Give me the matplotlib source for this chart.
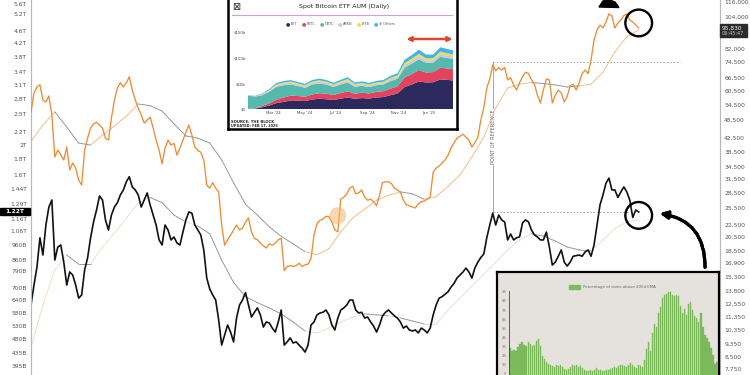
import numpy as np
import pandas as pd
import matplotlib
matplotlib.use('Agg')
import matplotlib.pyplot as plt
import matplotlib.ticker as mticker
import matplotlib.transforms as mtransforms
from matplotlib.patches import Rectangle, Polygon
from matplotlib.lines import Line2D

W, H = 750, 375

# weekly values, first week 2021-03-24
btc_k = [51.5, 59.3, 62.0, 63.0, 56.3, 55.5, 58.0, 50.5, 37.0, 38.9,
         37.5, 36.2, 39.8, 33.6, 35.4, 34.1, 31.2, 30.1, 38.9, 42.5,
         45.8, 47.2, 47.8, 46.8, 45.8, 42.5, 41.9, 49.3, 56.3, 61.5,
         64.0, 62.0, 64.0, 66.8, 60.6, 56.3, 53.1, 50.4, 47.5, 48.6,
         49.6, 45.8, 41.9, 38.9, 35.2, 39.5, 41.9, 40.4, 40.9, 37.5,
         39.5, 41.9, 44.4, 46.8, 43.5, 39.8, 38.9, 38.3, 36.2, 30.1,
         29.4, 30.6, 29.4, 28.6, 22.4, 19.3, 20.1, 20.8, 21.6, 22.4,
         21.6, 21.9, 22.9, 23.6, 21.3, 20.3, 20.1, 19.6, 19.2, 18.9,
         19.5, 19.3, 19.6, 20.1, 20.3, 16.0, 16.5, 16.6, 16.5, 16.6,
         16.9, 16.5, 16.7, 16.8, 17.5, 20.8, 22.6, 23.2, 23.4, 23.9,
         23.8, 22.9, 21.6, 21.3, 27.1, 27.5, 28.2, 29.4, 29.8, 28.2,
         28.4, 29.0, 27.5, 26.9, 27.1, 26.6, 25.8, 27.9, 30.6, 30.8,
         30.8, 30.4, 29.4, 29.0, 28.6, 26.9, 26.0, 25.8, 25.6, 25.4,
         26.2, 26.6, 26.7, 27.1, 27.5, 33.1, 34.1, 34.6, 35.4, 36.2,
         37.5, 39.5, 41.1, 42.5, 43.1, 43.8, 42.8, 41.9, 39.8, 41.1,
         42.8, 48.6, 53.1, 61.5, 65.8, 72.9, 69.8, 71.6, 70.2, 71.6,
         65.3, 66.4, 62.9, 60.6, 64.0, 66.8, 69.1, 68.4, 65.3, 63.3,
         58.4, 55.1, 60.6, 65.8, 65.3, 55.1, 58.4, 60.6, 59.3, 55.5,
         57.9, 62.5, 63.3, 60.6, 64.0, 68.4, 70.2, 68.4, 75.6, 87.6,
         94.4, 97.9, 95.8, 100.0, 106.2, 104.6, 95.8, 99.4, 101.6, 105.0,
         106.2, 101.6, 100.0, 97.9, 95.83]

# altcoin market cap, billions
total2_b = [617, 714, 815, 1010, 890, 1109, 1265, 1332, 858, 944,
            958, 845, 714, 786, 769, 714, 649, 664, 798, 871,
            1010, 1134, 1238, 1372, 1332, 1151, 1069, 1193, 1265, 1306,
            1382, 1434, 1521, 1580, 1466, 1434, 1382, 1265, 1332, 1403,
            1284, 1193, 1109, 994, 958, 1109, 1069, 994, 1016, 972,
            958, 1053, 1151, 1220, 1210, 1109, 1069, 1031, 924, 752,
            694, 664, 640, 553, 460, 495, 533, 506, 471, 561,
            617, 640, 676, 617, 565, 585, 604, 574, 525, 545,
            541, 521, 506, 545, 595, 460, 471, 485, 467, 471,
            460, 450, 437, 460, 533, 545, 574, 582, 585, 595,
            574, 533, 514, 561, 595, 604, 617, 640, 640, 595,
            582, 585, 561, 565, 545, 529, 506, 533, 570, 585,
            595, 582, 570, 561, 545, 521, 529, 514, 510, 514,
            503, 521, 514, 503, 521, 574, 617, 649, 656, 668,
            680, 704, 723, 752, 769, 786, 809, 786, 752, 809,
            845, 874, 897, 1010, 1109, 1210, 1109, 1193, 1151, 1134,
            994, 1038, 994, 1010, 1016, 1126, 1151, 1134, 1069, 1031,
            1016, 994, 994, 1053, 944, 827, 845, 882, 924, 845,
            821, 845, 882, 886, 890, 882, 910, 924, 882, 958,
            1109, 1284, 1382, 1506, 1564, 1434, 1434, 1357, 1413, 1466,
            1413, 1332, 1172, 1238, 1220]

# moving averages, every 4 weeks
btc_ma_k = [41.5, 46.8, 51.6, 46.1, 41.0, 40.4, 43.5, 46.5, 50.0, 54.7,
            54.0, 51.9, 47.2, 43.2, 42.5, 41.0, 36.2, 30.6, 26.1, 24.1,
            22.1, 20.6, 19.5, 18.4, 18.0, 18.8, 21.3, 23.6, 25.2, 26.9,
            27.9, 28.6, 28.2, 27.1, 27.6, 29.8, 32.4, 37.0, 42.8, 53.1,
            61.5, 63.3, 64.0, 63.6, 62.9, 62.0, 62.5, 63.3, 69.1, 80.3,
            89.8, 94.4]
total2_ma_b = [453, 617, 798, 890, 833, 833, 944, 1045, 1165, 1306,
               1357, 1306, 1193, 1134, 1101, 1040, 858, 728, 656, 628,
               604, 578, 545, 510, 503, 521, 545, 565, 578, 574,
               570, 561, 549, 537, 537, 595, 649, 709, 773, 845,
               924, 994, 1040, 1023, 986, 944, 924, 917, 994, 1081,
               1134, 1151]

left_labels = ['5.6T', '5.2T', '4.6T', '4.2T', '3.8T', '3.4T', '3.1T', '2.8T', '2.5T',
               '2.2T', '2T', '1.8T', '1.6T', '1.44T', '1.29T', '1.16T', '1.06T',
               '960B', '860B', '790B', '700B', '640B', '580B', '530B', '480B', '435B', '395B']
left_vals = [5600, 5200, 4600, 4200, 3800, 3400, 3100, 2800, 2500, 2200, 2000, 1800, 1600,
             1440, 1290, 1160, 1060, 960, 860, 790, 700, 640, 580, 530, 480, 435, 395]
right_vals = [116000, 104000, 82000, 74500, 66500, 60500, 54500, 48500, 42500, 38500,
              34500, 31500, 28500, 25500, 22500, 20500, 18500, 16900, 15300, 13800,
              12550, 11350, 10350, 9350, 8500, 7750]

# ETF AUM inset ($b)
etf_dates = ['2024-01-11', '2024-01-25', '2024-02-08', '2024-02-22', '2024-03-07', '2024-03-21',
             '2024-04-04', '2024-04-18', '2024-05-02', '2024-05-16', '2024-05-30', '2024-06-13',
             '2024-06-27', '2024-07-11', '2024-07-25', '2024-08-08', '2024-08-22', '2024-09-05',
             '2024-09-19', '2024-10-03', '2024-10-17', '2024-10-31', '2024-11-14', '2024-11-28',
             '2024-12-12', '2024-12-26', '2025-01-09', '2025-01-23', '2025-02-06', '2025-02-17']
ibit = [0.1, 0.8, 3.5, 7.0, 11.5, 14.0, 16.8, 16.5, 15.5, 18.5, 20.0, 19.2, 17.7, 20.3, 22.5,
        20.0, 21.5, 20.5, 22.5, 23.5, 27.0, 30.5, 43.0, 48.0, 54.0, 52.0, 52.5, 58.0, 57.0, 56.0]
fbtc = [0.1, 0.6, 2.5, 4.5, 7.0, 8.5, 9.5, 9.0, 8.5, 10.0, 11.0, 10.8, 9.8, 11.0, 12.2,
        10.0, 10.5, 10.0, 11.0, 11.5, 13.0, 14.0, 19.0, 20.5, 22.5, 19.5, 20.0, 23.0, 22.5, 22.0]
gbtc = [26.0, 23.0, 21.0, 22.5, 25.0, 24.0, 22.0, 19.5, 17.5, 19.5, 19.2, 18.0, 15.8, 16.8, 17.5,
        13.5, 13.5, 12.5, 13.0, 13.0, 14.5, 15.0, 19.0, 20.5, 21.0, 19.0, 18.5, 21.5, 20.5, 20.0]
arkb = [0.1, 0.3, 1.0, 1.8, 2.6, 2.9, 2.9, 2.7, 2.6, 3.0, 3.2, 3.1, 2.8, 3.2, 3.6,
        2.9, 3.0, 2.7, 2.8, 3.0, 3.5, 3.6, 5.0, 5.2, 5.6, 4.8, 4.5, 5.2, 4.8, 4.6]
bitb = [0.1, 0.3, 1.0, 1.6, 2.2, 2.5, 2.5, 2.4, 2.3, 2.6, 2.8, 2.6, 2.3, 2.6, 2.9,
        2.5, 2.5, 2.4, 2.5, 2.6, 2.9, 3.0, 4.1, 4.5, 4.9, 4.2, 4.2, 4.8, 4.5, 4.3]
others = [0.5, 0.8, 1.4, 2.0, 2.8, 3.0, 3.0, 2.9, 2.8, 3.2, 3.4, 3.2, 2.9, 3.3, 3.6,
          3.1, 3.2, 3.0, 3.2, 3.3, 3.9, 4.3, 6.5, 7.2, 8.4, 7.2, 7.0, 8.5, 8.3, 8.0]
etf_names = ['IBIT', 'FBTC', 'GBTC', 'ARKB', 'BITB', '# Others']
etf_colors = ['#2c2a5c', '#e2445f', '#55b9ad', '#c9c7dc', '#f2d94e', '#3fb6e8']

# percentage of coins above 200d EMA
coins_above = [33, 30, 31, 30, 34, 38, 40, 37, 36, 40, 38, 36, 37, 41, 43, 35, 24, 21, 18, 16,
               15, 13, 12, 15, 13, 14, 12, 10, 9, 10, 12, 14, 13, 14, 12, 13, 11, 9, 8, 8,
               9, 8, 9, 11, 9, 9, 8, 8, 9, 9, 10, 11, 12, 11, 13, 14, 15, 13, 12, 15,
               17, 15, 12, 11, 14, 13, 12, 20, 32, 40, 30, 50, 60, 56, 72, 78, 88, 92, 93, 95,
               95, 92, 90, 92, 90, 80, 72, 76, 70, 82, 84, 75, 68, 66, 62, 72, 56, 48, 44, 40,
               33, 25, 16, 18]


def fx(x):
    return x / W


def fy(y):
    return 1 - y / H


fig = plt.figure(figsize=(7.5, 3.75), dpi=100)
fig.patch.set_facecolor('white')

ax = fig.add_axes([fx(31), 0, fx(720) - fx(31), 1])
ax2 = ax.twinx()

dates = pd.date_range('2021-03-24', periods=len(btc_k), freq='7D')
ma_dates = dates[::4]
btc = np.array(btc_k) * 1000
btc_ma = np.array(btc_ma_k) * 1000
total2 = np.array(total2_b, dtype=float)
total2_ma = np.array(total2_ma_b, dtype=float)

GREY_MA = '#8f99a5'


def draw_ma(a, vals, ma, up, dn, lw):
    for k in range(len(ma) - 1):
        seg = vals[4 * k:4 * k + 5]
        above = seg.mean() > (ma[k] + ma[k + 1]) / 2
        a.plot(ma_dates[k:k + 2], ma[k:k + 2], color=up if above else dn, lw=lw,
               zorder=2, solid_capstyle='round')


for a in (ax, ax2):
    a.set_yscale('log')
    a.set_xlim(pd.Timestamp('2021-03-24'), pd.Timestamp('2025-08-29'))
ax.set_ylim(369.5, 5767)
ax2.set_ylim(7412, 117724)

draw_ma(ax, total2, total2_ma, '#f4dccb', GREY_MA, 0.7)
ax.plot(dates, total2, color='#111111', lw=1.2, zorder=3)
draw_ma(ax2, btc, btc_ma, '#f3bd8c', GREY_MA, 0.7)
ax2.plot(dates, btc, color='#ec8d33', lw=0.95, zorder=3)

# axes styling
ax.set_yticks(left_vals, labels=left_labels)
ax2.set_yticks(right_vals, labels=['{:,}'.format(v) for v in right_vals])
ax.yaxis.set_minor_locator(mticker.NullLocator())
ax2.yaxis.set_minor_locator(mticker.NullLocator())
ax.tick_params(axis='y', length=0, labelsize=4.3, labelcolor='#555555', pad=3)
ax2.tick_params(axis='y', length=0, labelsize=4.3, labelcolor='#555555', pad=3)
ax.tick_params(axis='x', bottom=False, labelbottom=False)
ax2.tick_params(axis='x', bottom=False, labelbottom=False)
for a in (ax, ax2):
    a.spines['top'].set_visible(False)
    a.spines['bottom'].set_visible(False)
    a.spines['left'].set_color('#b8b8b8')
    a.spines['right'].set_color('#b8b8b8')
    a.spines['left'].set_linewidth(0.8)
    a.spines['right'].set_linewidth(0.8)
ax2.patch.set_visible(False)

# point of reference
ref = pd.Timestamp('2024-03-14')
ax2.plot([ref, pd.Timestamp('2025-05-26')], [74500, 74500], ls=(0, (2, 2)), color='#9a9a9a', lw=0.6, zorder=1)
ax.plot([ref, pd.Timestamp('2025-01-28')], [1220, 1220], ls=(0, (2, 2)), color='#9a9a9a', lw=0.6, zorder=1)


def axfrac(a, v):
    return a.transAxes.inverted().transform(a.transData.transform((0, v)))[1]


y_lo = axfrac(ax, 1220)
y_hi = axfrac(ax2, 74500)
ax.axvline(ref, ymin=y_lo, ymax=y_hi, color='#9a9a9a', lw=0.6, zorder=1)
blend = mtransforms.blended_transform_factory(ax.transData, ax.transAxes)
ax.text(ref, (y_lo + y_hi) / 2, 'POINT OF REFERENCE', transform=blend, rotation=90,
        ha='center', va='center', fontsize=3.6, color='#666666',
        bbox=dict(fc='white', ec='none', pad=0.6), zorder=4)

# highlight spot and circles
ax2.scatter([dates[103]], [24000], s=150, color='#f5b56b', alpha=0.55, edgecolors='none', zorder=4)
ax2.scatter([dates[-1]], [99400], s=370, facecolors='none', edgecolors='black', linewidths=1.7, zorder=6)
ax.scatter([dates[-1]], [1190], s=370, facecolors='none', edgecolors='black', linewidths=1.7, zorder=6)

# last value boxes
yb = fig.transFigure.inverted().transform(ax.transData.transform((0, 1220)))[1]
fig.add_artist(Rectangle((0, yb - 3.5 / H), fx(30), 7 / H, color='black', transform=fig.transFigure))
fig.text(fx(15), yb, '1.22T', ha='center', va='center', fontsize=4.3, color='white', fontweight='bold')
fig.add_artist(Rectangle((fx(719.5), fy(36.5)), fx(27), 12 / H, color='#2b2b2b', transform=fig.transFigure))
fig.text(fx(722), fy(28), '95,830', ha='left', va='center', fontsize=4.2, color='white')
fig.text(fx(722), fy(33.5), '06:45:47', ha='left', va='center', fontsize=3.6, color='#c8c8c8')

# top inset: spot ETF AUM
box = fig.add_axes([fx(228), fy(129), fx(457) - fx(228), 132 / H])
box.set_xticks([])
box.set_yticks([])
box.set_facecolor('white')
for s in box.spines.values():
    s.set_linewidth(1.8)
    s.set_color('black')

ia = fig.add_axes([fx(248), fy(109), fx(453) - fx(248), 81.6 / H])
ed = pd.to_datetime(etf_dates)
ia.stackplot(ed, ibit, fbtc, gbtc, arkb, bitb, others, colors=etf_colors, lw=0)
ia.set_xlim(ed[0], ed[-1])
ia.set_ylim(0, 160)
ia.set_yticks([0, 50, 100, 150], labels=['$0', '$50b', '$100b', '$150b'])
mticks = pd.to_datetime(['2024-03-01', '2024-05-01', '2024-07-01', '2024-09-01', '2024-11-01', '2025-01-01'])
ia.set_xticks(mticks, labels=["Mar '24", "May '24", "Jul '24", "Sep '24", "Nov '24", "Jan '25"])
ia.tick_params(length=0, labelsize=2.8, labelcolor='#444444', pad=1.5)
ia.patch.set_alpha(0)
for s in ia.spines.values():
    s.set_visible(False)

fig.text(fx(236), fy(7), '\u22a0', ha='center', va='center', fontsize=7, color='#222222')
fig.text(fx(344), fy(6.5), 'Spot Bitcoin ETF AUM (Daily)', ha='center', va='center', fontsize=4.5, color='#222222')
fig.add_artist(Line2D([fx(232), fx(452)], [fy(14.5), fy(14.5)], color='#c9a3dc', lw=0.8, transform=fig.transFigure))
leg_x = [288, 304, 322, 340, 359, 376]
for lx, name, c in zip(leg_x, etf_names, etf_colors):
    fig.text(fx(lx), fy(24), '\u25cf', ha='center', va='center', fontsize=3.6, color=c)
    fig.text(fx(lx + 3), fy(24), name, ha='left', va='center', fontsize=2.5, color='#555555')
fig.text(fx(231), fy(121.5), 'SOURCE: THE BLOCK', ha='left', va='center', fontsize=2.7, color='#222222', fontweight='bold')
fig.text(fx(231), fy(125.5), 'UPDATED: FEB 17, 2025', ha='left', va='center', fontsize=2.5, color='#222222', fontweight='bold')
fig.add_artist(plt.annotate('', xy=(455, H - 39), xytext=(404, H - 39), xycoords='figure pixels',
                            arrowprops=dict(arrowstyle='<|-|>', color='#e2452b', lw=1.6, mutation_scale=6)))

# bottom inset: coins above 200d EMA
box2 = fig.add_axes([fx(497), fy(378), fx(719) - fx(497), 106 / H])
box2.set_xticks([])
box2.set_yticks([])
box2.set_facecolor('#e5e1dc')
for s in box2.spines.values():
    s.set_linewidth(1.6)
    s.set_color('black')

ba = fig.add_axes([fx(509), fy(378.2), fx(718) - fx(509), (378.2 - 291) / H])
xb = np.arange(len(coins_above))
ba.bar(xb, coins_above, width=0.75, color='#80bd5f', edgecolor='#69a94b', linewidth=0.2)
ba.set_xlim(-0.6, len(coins_above) - 0.4)
ba.set_ylim(0, 96)
ba.set_yticks(np.arange(5, 100, 10))
ba.set_xticks([])
ba.tick_params(length=0, labelsize=2.8, labelcolor='#777777', pad=2)
ba.patch.set_alpha(0)
for k, s in ba.spines.items():
    s.set_visible(k == 'left')
ba.spines['left'].set_color('#444444')
ba.spines['left'].set_linewidth(0.6)
fig.add_artist(Rectangle((fx(569), fy(289)), fx(11), 4 / H, color='#80bd5f', transform=fig.transFigure))
fig.text(fx(583), fy(287), 'Percentage of coins above 200d EMA', ha='left', va='center', fontsize=2.8, color='#666666')

# hand drawn arrow and mark
fig.add_artist(plt.annotate('', xy=(657, H - 213), xytext=(705, H - 270), xycoords='figure pixels',
                            arrowprops=dict(arrowstyle='-|>', connectionstyle='arc3,rad=0.45', color='black',
                                            lw=2.3, ls=(0, (1.6, 0.5)), mutation_scale=11)))
fig.add_artist(Polygon([(fx(599), fy(7)), (fx(619), fy(7.5)), (fx(615), fy(2)), (fx(610), fy(0)), (fx(603), fy(1))],
                       closed=True, color='black', transform=fig.transFigure))

fig.savefig('out.png', dpi=100)
